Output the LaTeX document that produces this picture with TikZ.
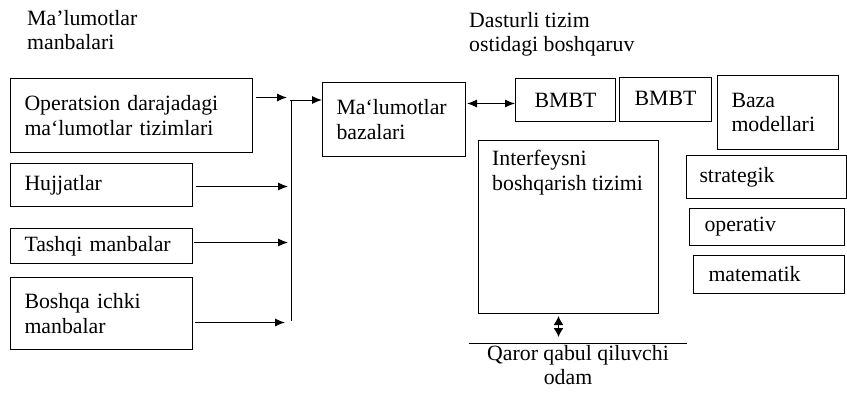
\documentclass[tikz,border=0pt]{standalone}
\usepackage{fontspec}
\setmainfont{Liberation Serif}
\usetikzlibrary{arrows.meta}
\tikzset{
  box/.style={draw, line width=1pt, anchor=north west, inner xsep=14pt, inner ysep=0pt, align=left},
  cbox/.style={box, align=center},
  txt/.style={anchor=north west, inner sep=0pt, align=left},
  arr/.style={line width=1pt, -{Latex[length=10pt,width=8pt]}},
  darr/.style={line width=1pt, {Latex[length=10pt,width=8pt]}-{Latex[length=10pt,width=8pt]}},
  vdarr/.style={line width=1.3pt, {Latex[length=9pt,width=10pt]}-{Latex[length=9pt,width=10pt]}},
  plain/.style={line width=1pt}
}
\begin{document}
\begin{tikzpicture}[x=1pt,y=-1pt]
\fontsize{21.8}{24.5}\selectfont
\useasboundingbox (0,0) rectangle (847,392);

% titles
\node[txt] (t1) at (27,10) {Ma’lumotlar\\manbalari};
\node[txt] (t2) at (469,12) {Dasturli tizim\\ostidagi boshqaruv};

% source boxes
\node[box, minimum height=74pt, text width=214pt] (src1) at (10,78) {Operatsion darajadagi\\ma`lumotlar tizimlari};
\node[box, minimum height=43pt, text width=154pt] (hujj) at (10,163) {Hujjatlar};
\node[box, minimum height=35pt, text width=154pt] (tashqi) at (10,228) {Tashqi manbalar};
\node[box, minimum height=72pt, text width=154pt] (boshqa) at (10,277) {Boshqa ichki\\manbalar};

% bus
\coordinate (busTop) at (291.5,100);
\coordinate (busBot) at (291.5,321);
\draw[plain] (busTop) -- (busBot);

\draw[arr] ([xshift=3pt,yshift=18pt]src1.east) -- ++(31,0);
\draw[arr] ([xshift=3pt,yshift=-1.5pt]hujj.east) -- ++(92,0);
\draw[arr] ([xshift=1pt,yshift=3.5pt]tashqi.east) -- ++(94,0);
\draw[arr] ([xshift=2pt,yshift=-9pt]boshqa.east) -- ++(90,0);

% database
\node[box, minimum height=74pt, text width=115pt] (db) at (322,82) {Ma`lumotlar\\bazalari};
\draw[arr] ([xshift=-1.5pt]busTop) -- (db.west |- busTop);

% BMBT etc
\node[cbox, minimum height=43pt, text width=72pt] (bmbt1) at (515,78) {BMBT};
\node[cbox, minimum height=44pt, text width=64pt] (bmbt2) at (619,77) {\raisebox{2pt}{BMBT}};
\node[box, minimum height=74pt, text width=93pt] (baza) at (717,75) {Baza\\modellari};
\draw[darr] ([xshift=1pt,yshift=16pt]db.east) -- ([yshift=-3.5pt]bmbt1.west);

% interface
\node[draw, line width=1pt, anchor=north west, inner sep=0pt, minimum width=180pt, minimum height=173pt] (interf) at (478,140) {};
\node[txt] (interfT) at (492,150) {Interfeysni\\boshqarish tizimi};

% models
\node[box, inner xsep=13pt, minimum height=43pt, text width=134pt] (strat) at (686,155) {strategik};
\node[box, inner xsep=15pt, minimum height=37pt, text width=125pt] (oper) at (689,208) {operativ};
\node[box, inner xsep=15pt, minimum height=38pt, text width=121pt] (matem) at (693,255) {matematik};

% decision maker
\draw[vdarr] ([xshift=-10pt,yshift=-2pt]interf.south) -- ++(0,21);
\coordinate (qL) at (469,343);
\coordinate (qR) at (687,343);
\draw[plain] (qL) -- (qR);
\node[anchor=north, inner sep=0pt, align=center] (qaror) at (578,345) {Qaror qabul qiluvchi\\odam\hspace*{20pt}};
\end{tikzpicture}
\end{document}
